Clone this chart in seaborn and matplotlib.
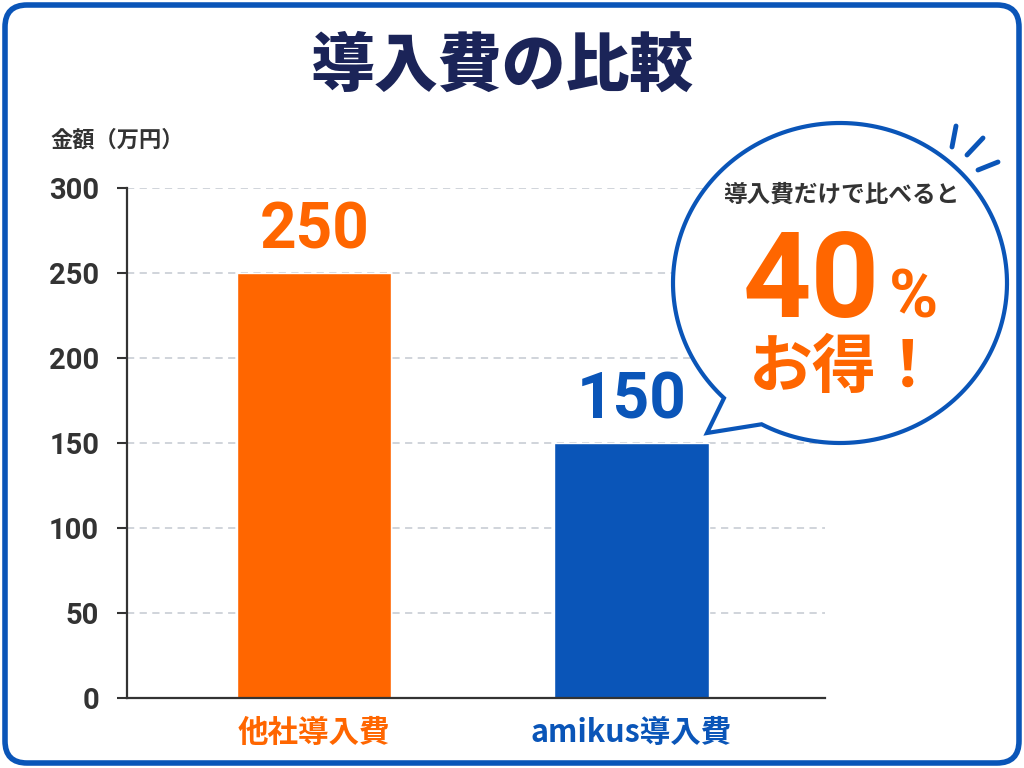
import numpy as np
import matplotlib
matplotlib.use("Agg")
from matplotlib import pyplot as plt
from matplotlib.patches import FancyBboxPatch, Polygon
import seaborn as sns
import pandas as pd

categories = ["他社導入費", "amikus導入費"]
values = [250, 150]
bar_colors = ["#FF6600", "#0A55B8"]
yticks = [0, 50, 100, 150, 200, 250, 300]
title = "導入費の比較"
ylabel = "金額（万円）"
bubble_lead = "導入費だけで比べると"
bubble_pct = "40"
bubble_tail = "お得！"

sns.set_theme(style="white")
plt.rcParams["font.family"] = ["Roboto", "Noto Sans CJK JP", "DejaVu Sans"]
cjk = ["Noto Sans CJK JP", "DejaVu Sans"]

df = pd.DataFrame({"item": categories, "cost": values})

fig = plt.figure(figsize=(10.24, 7.68), dpi=100)
fig.patch.set_facecolor("white")
ax = fig.add_axes([127 / 1024, 1 - 698 / 768, 698 / 1024, 510 / 768])

sns.barplot(df, x="item", y="cost", hue="item", palette=bar_colors,
            width=0.486, legend=False, ax=ax, saturation=1)

ax.set_xlim(-0.59, 1.61)
ax.set_ylim(0, 300)
ax.set_yticks(yticks)
ax.set_xlabel("")
ax.set_ylabel("")
for y in yticks[1:]:
    ax.axhline(y, color="#cdd1d8", lw=1.3, ls=(0, (4, 3)), zorder=0)
for s in ["top", "right"]:
    ax.spines[s].set_visible(False)
for s in ["left", "bottom"]:
    ax.spines[s].set_color("#333333")
    ax.spines[s].set_linewidth(1.6)
ax.tick_params(axis="y", left=True, length=7, width=1.5, color="#333333",
               labelsize=21, labelcolor="#333333", pad=13)
ax.tick_params(axis="x", bottom=False, labelsize=22, pad=8)
for lbl in ax.get_yticklabels():
    lbl.set_fontweight("bold")
for lbl, c in zip(ax.get_xticklabels(), bar_colors):
    lbl.set_color(c)
    lbl.set_fontweight("bold")
    lbl.set_family(cjk)

for cont, c in zip(ax.containers, bar_colors):
    ax.bar_label(cont, fmt="%d", padding=8, color=c, fontsize=46,
                 fontweight="bold")

# overlay in pixel coordinates
ov = fig.add_axes([0, 0, 1, 1])
ov.set_xlim(0, 1024)
ov.set_ylim(768, 0)
ov.axis("off")

border = FancyBboxPatch((5, 5), 1014, 758, boxstyle="round,pad=0,rounding_size=22",
                        fc="none", ec="#0A55B8", lw=4)
ov.add_patch(border)

fig.text(502 / 1024, 1 - 67 / 768, title, ha="center", va="center", fontsize=46,
         fontweight="black", color="#1B2458", family=cjk)
fig.text(50 / 1024, 1 - 140 / 768, ylabel, ha="left", va="center", fontsize=16,
         fontweight="bold", color="#333333", family=cjk)

# speech bubble
cx, cy, a, b = 840, 283, 167, 160
t = np.radians(np.linspace(118, 134 - 360, 200))
pts = np.column_stack([cx + a * np.cos(t), cy + b * np.sin(t)])
pts = np.vstack([pts, [[707, 433]]])
ov.add_patch(Polygon(pts, closed=True, fc="white", ec="#0A55B8", lw=3,
                     joinstyle="miter", zorder=5))
for (x0, y0), (x1, y1) in [((956, 126), (952, 147)), ((983, 138), (967, 155)),
                           ((998, 162), (978, 170))]:
    ov.plot([x0, x1], [y0, y1], color="#0A55B8", lw=3.5, solid_capstyle="round")

ov.text(841, 195, bubble_lead, ha="center", va="center", fontsize=17,
        fontweight="bold", color="#333333", zorder=6, family=cjk)
ov.text(880, 317, bubble_pct, ha="right", va="baseline", fontsize=86,
        fontweight="bold", color="#FF6600", zorder=6, family=["Roboto"])
ov.text(889, 318, "%", ha="left", va="baseline", fontsize=48,
        fontweight="bold", color="#FF6600", zorder=6, family=["Roboto"])
ov.text(845, 368, bubble_tail, ha="center", va="center", fontsize=46,
        fontweight="bold", color="#FF6600", zorder=6, family=cjk)

fig.savefig("out.png", dpi=100)
